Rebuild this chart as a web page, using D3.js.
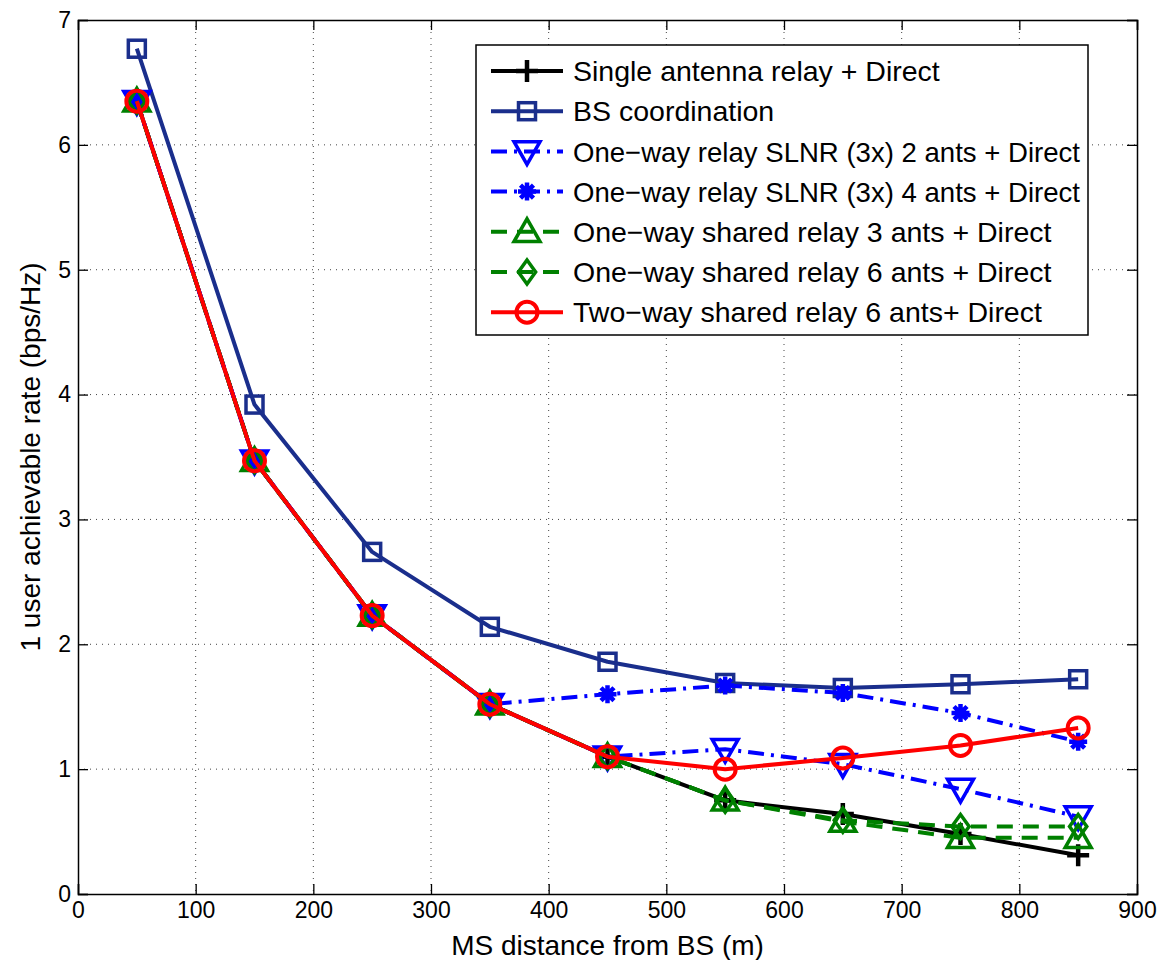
<!DOCTYPE html>
<html>
<head>
<meta charset="utf-8">
<script src="https://cdn.jsdelivr.net/npm/d3@7"></script>
<style>
  html, body { margin: 0; padding: 0; background: #fff; }
  svg { display: block; font-family: "Liberation Sans", Arial, Helvetica, sans-serif; }
</style>
</head>
<body>
<svg id="chart" width="1162" height="960"></svg>
<script>
// MS distance from BS (m)
const distances = [50, 150, 250, 350, 450, 550, 650, 750, 850];

// Achievable rate per scheme (bps/Hz)
const singleRelay  = [6.35, 3.47, 2.23, 1.52, 1.10, 0.75, 0.64, 0.48, 0.31];
const bsCoord      = [6.77, 3.92, 2.74, 2.14, 1.86, 1.69, 1.65, 1.68, 1.72];
const slnr2        = [6.35, 3.47, 2.23, 1.52, 1.10, 1.16, 1.04, 0.84, 0.62];
const slnr4        = [6.35, 3.47, 2.23, 1.52, 1.60, 1.67, 1.61, 1.45, 1.22];
const shared3      = [6.35, 3.47, 2.23, 1.52, 1.10, 0.75, 0.58, 0.45, 0.45];
const shared6      = [6.35, 3.47, 2.23, 1.52, 1.10, 0.75, 0.59, 0.54, 0.54];
const twoWay6      = [6.35, 3.47, 2.23, 1.52, 1.10, 1.00, 1.09, 1.19, 1.33];

const seriesNames = [
  "Single antenna relay + Direct",
  "BS coordination",
  "One\u2212way relay SLNR (3x) 2 ants + Direct",
  "One\u2212way relay SLNR (3x) 4 ants + Direct",
  "One\u2212way shared relay 3 ants + Direct",
  "One\u2212way shared relay 6 ants + Direct",
  "Two\u2212way shared relay 6 ants+ Direct"
];

const xTicks = [0, 100, 200, 300, 400, 500, 600, 700, 800, 900];
const yTicks = [0, 1, 2, 3, 4, 5, 6, 7];

const series = [
  { name: seriesNames[0], values: singleRelay, color: "#000000", dash: null,            marker: "plus" },
  { name: seriesNames[1], values: bsCoord,     color: "#1a2e8c", dash: null,            marker: "square" },
  { name: seriesNames[2], values: slnr2,       color: "#0000ff", dash: "16,7,3,7",      marker: "tridown" },
  { name: seriesNames[3], values: slnr4,       color: "#0000ff", dash: "16,7,3,7",      marker: "star" },
  { name: seriesNames[4], values: shared3,     color: "#008000", dash: "16,10",         marker: "triup" },
  { name: seriesNames[5], values: shared6,     color: "#008000", dash: "16,10",         marker: "diamond" },
  { name: seriesNames[6], values: twoWay6,     color: "#ff0000", dash: null,            marker: "circle" }
];

const svg = d3.select("#chart");
const plotLeft = 78, plotRight = 1137, plotTop = 20, plotBottom = 894;

const x = d3.scaleLinear().domain([0, 900]).range([plotLeft, plotRight]);
const y = d3.scaleLinear().domain([0, 7]).range([plotBottom, plotTop]);

// dotted grid
const grid = svg.append("g");
grid.selectAll("line.gx").data(xTicks.slice(1, -1)).enter().append("line")
  .attr("x1", d => x(d)).attr("x2", d => x(d))
  .attr("y1", plotTop).attr("y2", plotBottom)
  .attr("stroke", "#444").attr("stroke-width", 1).attr("stroke-dasharray", "1,5");
grid.selectAll("line.gy").data(yTicks.slice(1, -1)).enter().append("line")
  .attr("y1", d => y(d)).attr("y2", d => y(d))
  .attr("x1", plotLeft).attr("x2", plotRight)
  .attr("stroke", "#444").attr("stroke-width", 1).attr("stroke-dasharray", "1,5");

// axes with inward ticks
const tickLen = 10;
const xAxis = svg.append("g").attr("transform", `translate(0,${plotBottom})`)
  .call(d3.axisBottom(x).tickValues(xTicks).tickSize(-tickLen).tickPadding(18).tickFormat(d3.format("d")));
const yAxis = svg.append("g").attr("transform", `translate(${plotLeft},0)`)
  .call(d3.axisLeft(y).tickValues(yTicks).tickSize(-tickLen).tickPadding(7).tickFormat(d3.format("d")));
svg.append("g").attr("transform", `translate(0,${plotTop})`)
  .call(d3.axisTop(x).tickValues(xTicks).tickSize(-tickLen).tickFormat(""));
svg.append("g").attr("transform", `translate(${plotRight},0)`)
  .call(d3.axisRight(y).tickValues(yTicks).tickSize(-tickLen).tickFormat(""));

svg.selectAll(".domain").attr("stroke", "#000").attr("stroke-width", 1.5);
svg.selectAll(".tick line").attr("stroke", "#000").attr("stroke-width", 1.3);
xAxis.selectAll("text").attr("font-size", 23).attr("fill", "#000").attr("dy", "0.71em").attr("y", 8);
yAxis.selectAll("text").attr("font-size", 23).attr("fill", "#000");

// axis titles
svg.append("text").attr("x", (plotLeft + plotRight) / 2).attr("y", 955)
  .attr("text-anchor", "middle").attr("font-size", 28).text("MS distance from BS (m)");
svg.append("text").attr("transform", `translate(40,${(plotTop + plotBottom) / 2}) rotate(-90)`)
  .attr("text-anchor", "middle").attr("font-size", 28).text("1 user achievable rate (bps/Hz)");

// marker drawing
function drawMarker(g, type, cx, cy, color) {
  const sw = 3.5;
  if (type === "plus") {
    const r = 11;
    g.append("path").attr("d", `M${cx - r},${cy}H${cx + r}M${cx},${cy - r}V${cy + r}`)
      .attr("stroke", color).attr("stroke-width", 4.5).attr("fill", "none");
  } else if (type === "square") {
    const r = 8.5;
    g.append("rect").attr("x", cx - r).attr("y", cy - r).attr("width", 2 * r).attr("height", 2 * r)
      .attr("stroke", color).attr("stroke-width", sw).attr("fill", "none");
  } else if (type === "tridown") {
    const r = 13;
    g.append("path").attr("d", `M${cx - r},${cy - r * 0.75}L${cx + r},${cy - r * 0.75}L${cx},${cy + r}Z`)
      .attr("stroke", color).attr("stroke-width", sw).attr("fill", "none").attr("stroke-linejoin", "miter");
  } else if (type === "triup") {
    const r = 13;
    g.append("path").attr("d", `M${cx - r},${cy + r * 0.75}L${cx + r},${cy + r * 0.75}L${cx},${cy - r}Z`)
      .attr("stroke", color).attr("stroke-width", sw).attr("fill", "none").attr("stroke-linejoin", "miter");
  } else if (type === "diamond") {
    const r = 12;
    g.append("path").attr("d", `M${cx},${cy - r}L${cx + r * 0.72},${cy}L${cx},${cy + r}L${cx - r * 0.72},${cy}Z`)
      .attr("stroke", color).attr("stroke-width", sw).attr("fill", "none");
  } else if (type === "star") {
    const r = 9, d = r * 0.72;
    g.append("path").attr("d",
      `M${cx - r},${cy}H${cx + r}M${cx},${cy - r}V${cy + r}` +
      `M${cx - d},${cy - d}L${cx + d},${cy + d}M${cx - d},${cy + d}L${cx + d},${cy - d}`)
      .attr("stroke", color).attr("stroke-width", 4.5).attr("fill", "none");
  } else if (type === "circle") {
    g.append("circle").attr("cx", cx).attr("cy", cy).attr("r", 10.5)
      .attr("stroke", color).attr("stroke-width", 4).attr("fill", "none");
  }
}

const line = d3.line().x((d, i) => x(distances[i])).y(d => y(d));

const plot = svg.append("g");
series.forEach(s => {
  const g = plot.append("g");
  g.append("path").datum(s.values).attr("d", line)
    .attr("fill", "none").attr("stroke", s.color).attr("stroke-width", 4)
    .attr("stroke-linejoin", "round")
    .attr("stroke-dasharray", s.dash);
  s.values.forEach((v, i) => drawMarker(g, s.marker, x(distances[i]), y(v), s.color));
});

// legend
const lg = svg.append("g");
lg.append("rect").attr("x", 476).attr("y", 45).attr("width", 612).attr("height", 290)
  .attr("fill", "#fff").attr("stroke", "#000").attr("stroke-width", 1.5);
const maxLabelWidth = 507;
series.forEach((s, i) => {
  const cy = 71 + i * 40.2;
  lg.append("line").attr("x1", 491).attr("x2", 563).attr("y1", cy).attr("y2", cy)
    .attr("stroke", s.color).attr("stroke-width", 4).attr("stroke-dasharray", s.dash);
  drawMarker(lg, s.marker, 527, cy, s.color);
  const t = lg.append("text").attr("x", 573).attr("y", cy).attr("dy", "0.36em")
    .attr("font-size", 28.5).attr("fill", "#000").text(s.name);
  // keep long entries inside the legend frame
  if (t.node().getComputedTextLength() > maxLabelWidth) {
    t.attr("textLength", maxLabelWidth).attr("lengthAdjust", "spacingAndGlyphs");
  }
});
</script>
</body>
</html>
